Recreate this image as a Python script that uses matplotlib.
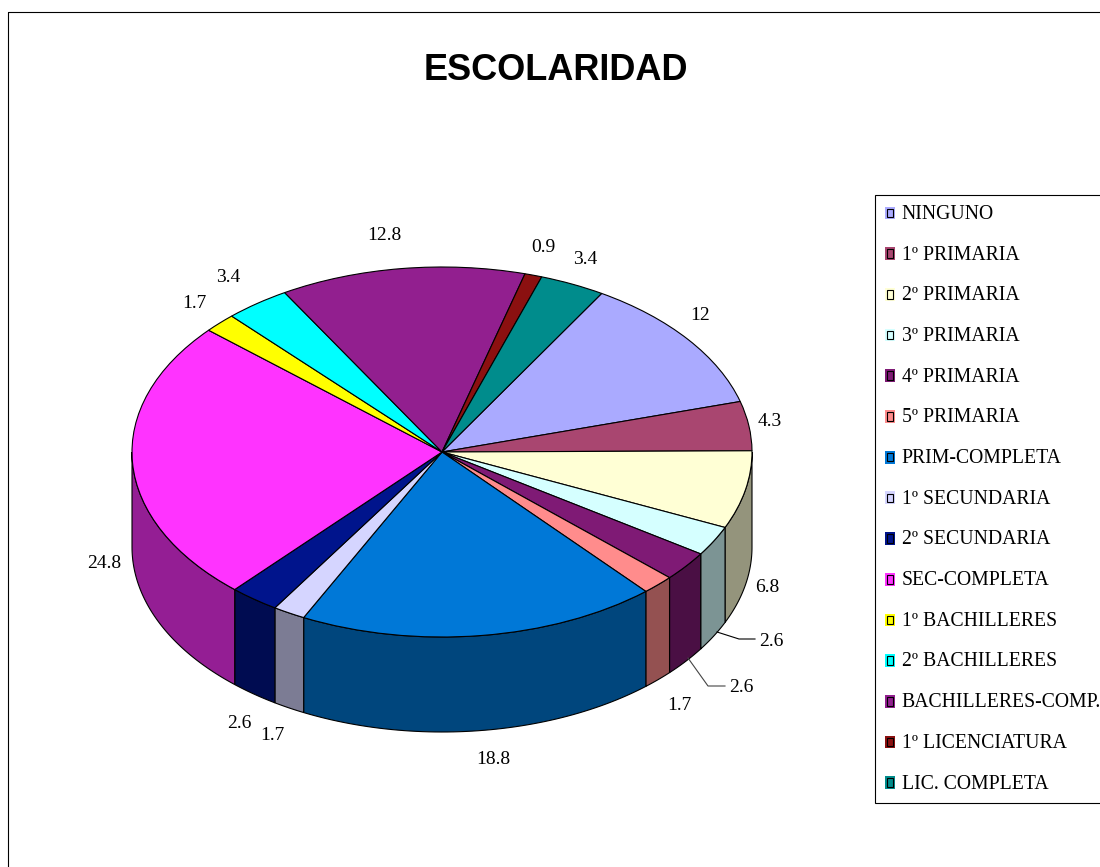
from matplotlib import pyplot as plt
from matplotlib.colors import to_rgb
from matplotlib.legend_handler import HandlerBase
from matplotlib.patches import Polygon, Rectangle
from matplotlib.transforms import Affine2D
import numpy as np

categories = ['NINGUNO', '1º PRIMARIA', '2º PRIMARIA', '3º PRIMARIA', '4º PRIMARIA',
              '5º PRIMARIA', 'PRIM-COMPLETA', '1º SECUNDARIA', '2º SECUNDARIA',
              'SEC-COMPLETA', '1º BACHILLERES', '2º BACHILLERES', 'BACHILLERES-COMP.',
              '1º LICENCIATURA', 'LIC. COMPLETA']
values = [12, 4.3, 6.8, 2.6, 2.6, 1.7, 18.8, 1.7, 2.6, 24.8, 1.7, 3.4, 12.8, 0.9, 3.4]
value_labels = ['12', '4.3', '6.8', '2.6', '2.6', '1.7', '18.8', '1.7', '2.6', '24.8',
                '1.7', '3.4', '12.8', '0.9', '3.4']
colors = ['#AAAAFF', '#A94670', '#FFFFD5', '#D5FFFF', '#7F1A75', '#FF8C8C', '#0078D7',
          '#D5D5FF', '#00148C', '#FF33FF', '#FFFF00', '#00FFFF', '#921F8F', '#8B1010',
          '#008C8C']

# layout, in pixels of the 1100x867 picture
cx, cy = 442, 452
rx, ry = 310, 185
depth = 95 / ry
start_angle = 59.0
label_xy = [(700, 314), (770, 419), (767, 585), (771, 639), (741, 686), (679, 703),
            (493, 757), (272, 733), (239, 722), (104, 562), (194, 302), (228, 275),
            (384, 234), (543, 245), (585, 257)]

W, H = 1100, 867
plt.rcParams['font.family'] = ['Liberation Serif', 'DejaVu Sans']
fig = plt.figure(figsize=(W / 100, H / 100), dpi=100)
ax = fig.add_axes([0, 0, 1, 1])
px = Affine2D().scale(1 / W, -1 / H).translate(0, 1) + fig.transFigure


class SwatchHandler(HandlerBase):
    # coloured square with a dark outline inside it
    def create_artists(self, legend, orig, x0, y0, width, height, fontsize, trans):
        color = orig.get_facecolor()
        outer = Rectangle((x0, y0), width, height, facecolor=color, edgecolor='none',
                          transform=trans)
        inner = Rectangle((x0 + 1.5, y0 + 1.5), width - 3, height - 3, facecolor=color,
                          edgecolor='black', linewidth=0.8, transform=trans)
        return [outer, inner]


wedges, _ = ax.pie(values, colors=colors, startangle=start_angle, counterclock=False,
                   wedgeprops={'edgecolor': 'black', 'linewidth': 0.8, 'zorder': 3})
ax.set_aspect('auto')
ax.set_xlim(-cx / rx, (W - cx) / rx)
ax.set_ylim(-(H - cy) / ry, cy / ry)
ax.axis('off')

# side wall of the disc, only the part facing the viewer (180 to 360 degrees)
fracs = np.cumsum(values) / sum(values) * 360
ends = start_angle - fracs
starts = np.r_[start_angle, ends[:-1]]
for a1, a0, c in zip(starts, ends, colors):
    for shift in (0, 360):
        lo = max(a0 + shift, 180)
        hi = min(a1 + shift, 360)
        if hi <= lo:
            continue
        t = np.radians(np.linspace(lo, hi, 60))
        top = np.column_stack([np.cos(t), np.sin(t)])
        bottom = top[::-1] - [0, depth]
        r, g, b = to_rgb(c)
        ax.add_patch(Polygon(np.vstack([top, bottom]), closed=True,
                             facecolor=(r * 0.58, g * 0.58, b * 0.58),
                             edgecolor='black', linewidth=0.8, zorder=2))

for txt, (x, y) in zip(value_labels, label_xy):
    ax.text(x, y, txt, transform=px, ha='center', va='center_baseline', fontsize=14,
            color='black')

# leader lines
ax.plot([717, 739, 755], [632, 639, 639], transform=px, color='black', lw=0.8, clip_on=False)
ax.plot([688, 708, 725], [658, 686, 686], transform=px, color='#444444', lw=0.8, clip_on=False)

ax.text(556, 80, 'ESCOLARIDAD', transform=px, ha='center', va='baseline', fontsize=26,
        fontweight='bold', family=['Liberation Sans', 'DejaVu Sans'])

# outer frame, right and bottom run off the picture
ax.add_patch(Rectangle((8, 12), W + 20, H + 20, transform=px, fill=False,
                       edgecolor='black', linewidth=0.8, clip_on=False))

leg = ax.legend(wedges, categories, loc='upper left', bbox_to_anchor=(875, 195),
                bbox_transform=px, borderaxespad=0, fancybox=False, framealpha=1,
                edgecolor='black', fontsize=14.2, labelspacing=1.10, handlelength=0.5,
                handleheight=0.62, handletextpad=0.36, borderpad=0.5,
                handler_map={wedges[0].__class__: SwatchHandler()})
leg.get_frame().set_linewidth(0.8)

fig.savefig('out.png', dpi=100)
